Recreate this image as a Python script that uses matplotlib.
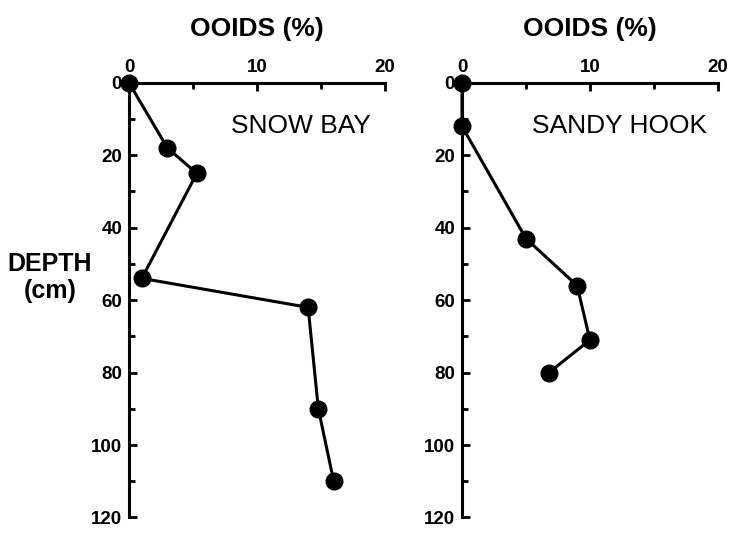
import matplotlib
matplotlib.use("Agg")
import matplotlib.pyplot as plt
from matplotlib.ticker import MultipleLocator

plt.rcParams['font.family'] = ['Liberation Sans', 'DejaVu Sans']

# Ooid percentage vs depth for each site
snow_ooids = [0, 3.0, 5.3, 1.0, 14.0, 14.8, 16.0]
snow_depth = [0, 18, 25, 54, 62, 90, 110]
sandy_ooids = [0, 0, 5.0, 9.0, 10.0, 6.8]
sandy_depth = [0, 12, 43, 56, 71, 80]

site_names = ["SNOW BAY", "SANDY HOOK"]
label_pos = [(8.0, 12), (5.5, 12)]
x_label = "OOIDS (%)"
y_label = "DEPTH\n(cm)"

fig = plt.figure(figsize=(7.31, 5.34), dpi=100)
ax1 = fig.add_axes([0.1765, 0.031, 0.350, 0.814])
ax2 = fig.add_axes([0.632, 0.031, 0.350, 0.814])

series = [(snow_ooids, snow_depth), (sandy_ooids, sandy_depth)]

for ax, (xs, ys), name, (lx, ly) in zip([ax1, ax2], series, site_names, label_pos):
    ax.plot(xs, ys, color='black', lw=2.2, marker='o', markersize=12,
            clip_on=False, zorder=3)
    ax.set_xlim(0, 20)
    ax.set_ylim(120, 0)
    for side in ['right', 'bottom']:
        ax.spines[side].set_visible(False)
    for side in ['left', 'top']:
        ax.spines[side].set_linewidth(2.2)
    ax.xaxis.tick_top()
    ax.xaxis.set_major_locator(MultipleLocator(10))
    ax.xaxis.set_minor_locator(MultipleLocator(5))
    ax.yaxis.set_major_locator(MultipleLocator(20))
    ax.yaxis.set_minor_locator(MultipleLocator(10))
    ax.tick_params(which='major', direction='in', length=6, width=2,
                   labelsize=13.5, pad=5)
    ax.tick_params(which='minor', direction='in', length=4, width=2)
    for lab in ax.get_xticklabels() + ax.get_yticklabels():
        lab.set_fontweight('bold')
    ax.set_title(x_label, fontsize=19, fontweight='bold', pad=34)
    ax.text(lx, ly, name, fontsize=19, va='center', ha='left')

fig.text(0.068, 0.48, y_label, fontsize=18, fontweight='bold',
         ha='center', va='center', linespacing=1.15)

fig.savefig("out.png", dpi=100, facecolor='white')
